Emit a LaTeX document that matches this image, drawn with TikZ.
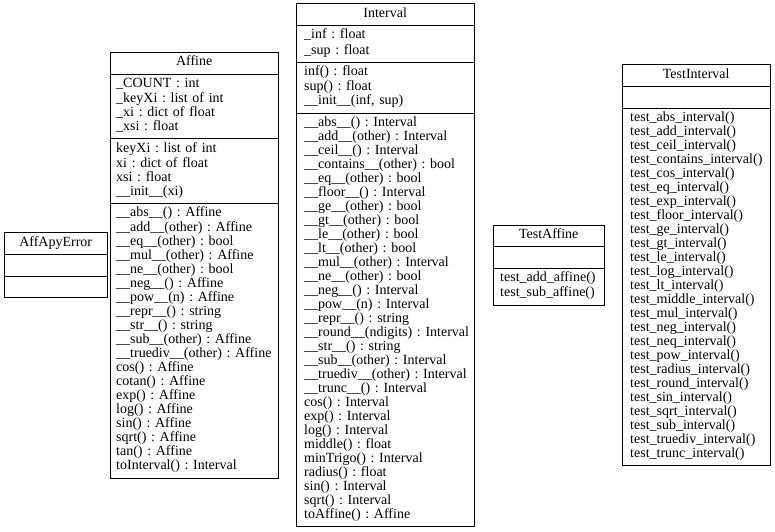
\documentclass[tikz,border=0pt]{standalone}
\usepackage{fontspec}
\setmainfont{Liberation Serif}
\usetikzlibrary{shapes.multipart}
\newcommand{\classname}[1]{\makebox[\linewidth]{#1}}

\begin{document}
\frenchspacing
\begin{tikzpicture}[
    x=1pt,y=-1pt,
    font=\fontsize{14}{14}\selectfont,
    umlclass/.style={draw,rectangle split,rectangle split parts=#1,
      anchor=west,inner xsep=8pt,inner ysep=3.6pt,align=left,
      execute at begin node={\rightskip=-20pt plus 1fil\strut},
      execute at end node={\strut}},
    umlclass/.default=3
  ]
    \useasboundingbox (0,0) rectangle (775,531);

    % exception class, no members
    \node[umlclass,text width=87pt] (error) at (4,265)
      {\classname{AffApyError}\nodepart{two}\nodepart{three}};

    % affine arithmetic
    \node[umlclass=4,inner xsep=6pt,text width=156pt] (affine) at (110,265)
      {\classname{Affine}
       \nodepart{two}
       \_COUNT : int\\
       \_keyXi : list of int\\
       \_xi : dict of float\\
       \_xsi : float
       \nodepart{three}
       keyXi : list of int\\
       xi : dict of float\\
       xsi : float\\
       \_\_init\_\_(xi)
       \nodepart{four}
       \_\_abs\_\_() : Affine\\
       \_\_add\_\_(other) : Affine\\
       \_\_eq\_\_(other) : bool\\
       \_\_mul\_\_(other) : Affine\\
       \_\_ne\_\_(other) : bool\\
       \_\_neg\_\_() : Affine\\
       \_\_pow\_\_(n) : Affine\\
       \_\_repr\_\_() : string\\
       \_\_str\_\_() : string\\
       \_\_sub\_\_(other) : Affine\\
       \_\_truediv\_\_(other) : Affine\\
       cos() : Affine\\
       cotan() : Affine\\
       exp() : Affine\\
       log() : Affine\\
       sin() : Affine\\
       sqrt() : Affine\\
       tan() : Affine\\
       toInterval() : Interval};

    % interval arithmetic
    \node[umlclass=4,text width=162pt] (interval) at (296,265)
      {\classname{Interval}
       \nodepart{two}
       \_inf : float\\
       \_sup : float
       \nodepart{three}
       inf() : float\\
       sup() : float\\
       \_\_init\_\_(inf, sup)
       \nodepart{four}
       \_\_abs\_\_() : Interval\\
       \_\_add\_\_(other) : Interval\\
       \_\_ceil\_\_() : Interval\\
       \_\_contains\_\_(other) : bool\\
       \_\_eq\_\_(other) : bool\\
       \_\_floor\_\_() : Interval\\
       \_\_ge\_\_(other) : bool\\
       \_\_gt\_\_(other) : bool\\
       \_\_le\_\_(other) : bool\\
       \_\_lt\_\_(other) : bool\\
       \_\_mul\_\_(other) : Interval\\
       \_\_ne\_\_(other) : bool\\
       \_\_neg\_\_() : Interval\\
       \_\_pow\_\_(n) : Interval\\
       \_\_repr\_\_() : string\\
       \_\_round\_\_(ndigits) : Interval\\
       \_\_str\_\_() : string\\
       \_\_sub\_\_(other) : Interval\\
       \_\_truediv\_\_(other) : Interval\\
       \_\_trunc\_\_() : Interval\\
       cos() : Interval\\
       exp() : Interval\\
       log() : Interval\\
       middle() : float\\
       minTrigo() : Interval\\
       radius() : float\\
       sin() : Interval\\
       sqrt() : Interval\\
       toAffine() : Affine};

    % test cases
    \node[umlclass,inner xsep=7pt,text width=97pt] (testaffine) at (493,265)
      {\classname{TestAffine}
       \nodepart{two}
       \nodepart{three}
       test\_add\_affine()\\
       test\_sub\_affine()};

    \node[umlclass,text width=132pt] (testinterval) at (622,265)
      {\classname{TestInterval}
       \nodepart{two}
       \nodepart{three}
       test\_abs\_interval()\\
       test\_add\_interval()\\
       test\_ceil\_interval()\\
       test\_contains\_interval()\\
       test\_cos\_interval()\\
       test\_eq\_interval()\\
       test\_exp\_interval()\\
       test\_floor\_interval()\\
       test\_ge\_interval()\\
       test\_gt\_interval()\\
       test\_le\_interval()\\
       test\_log\_interval()\\
       test\_lt\_interval()\\
       test\_middle\_interval()\\
       test\_mul\_interval()\\
       test\_neg\_interval()\\
       test\_neq\_interval()\\
       test\_pow\_interval()\\
       test\_radius\_interval()\\
       test\_round\_interval()\\
       test\_sin\_interval()\\
       test\_sqrt\_interval()\\
       test\_sub\_interval()\\
       test\_truediv\_interval()\\
       test\_trunc\_interval()};
  \end{tikzpicture}
\end{document}
